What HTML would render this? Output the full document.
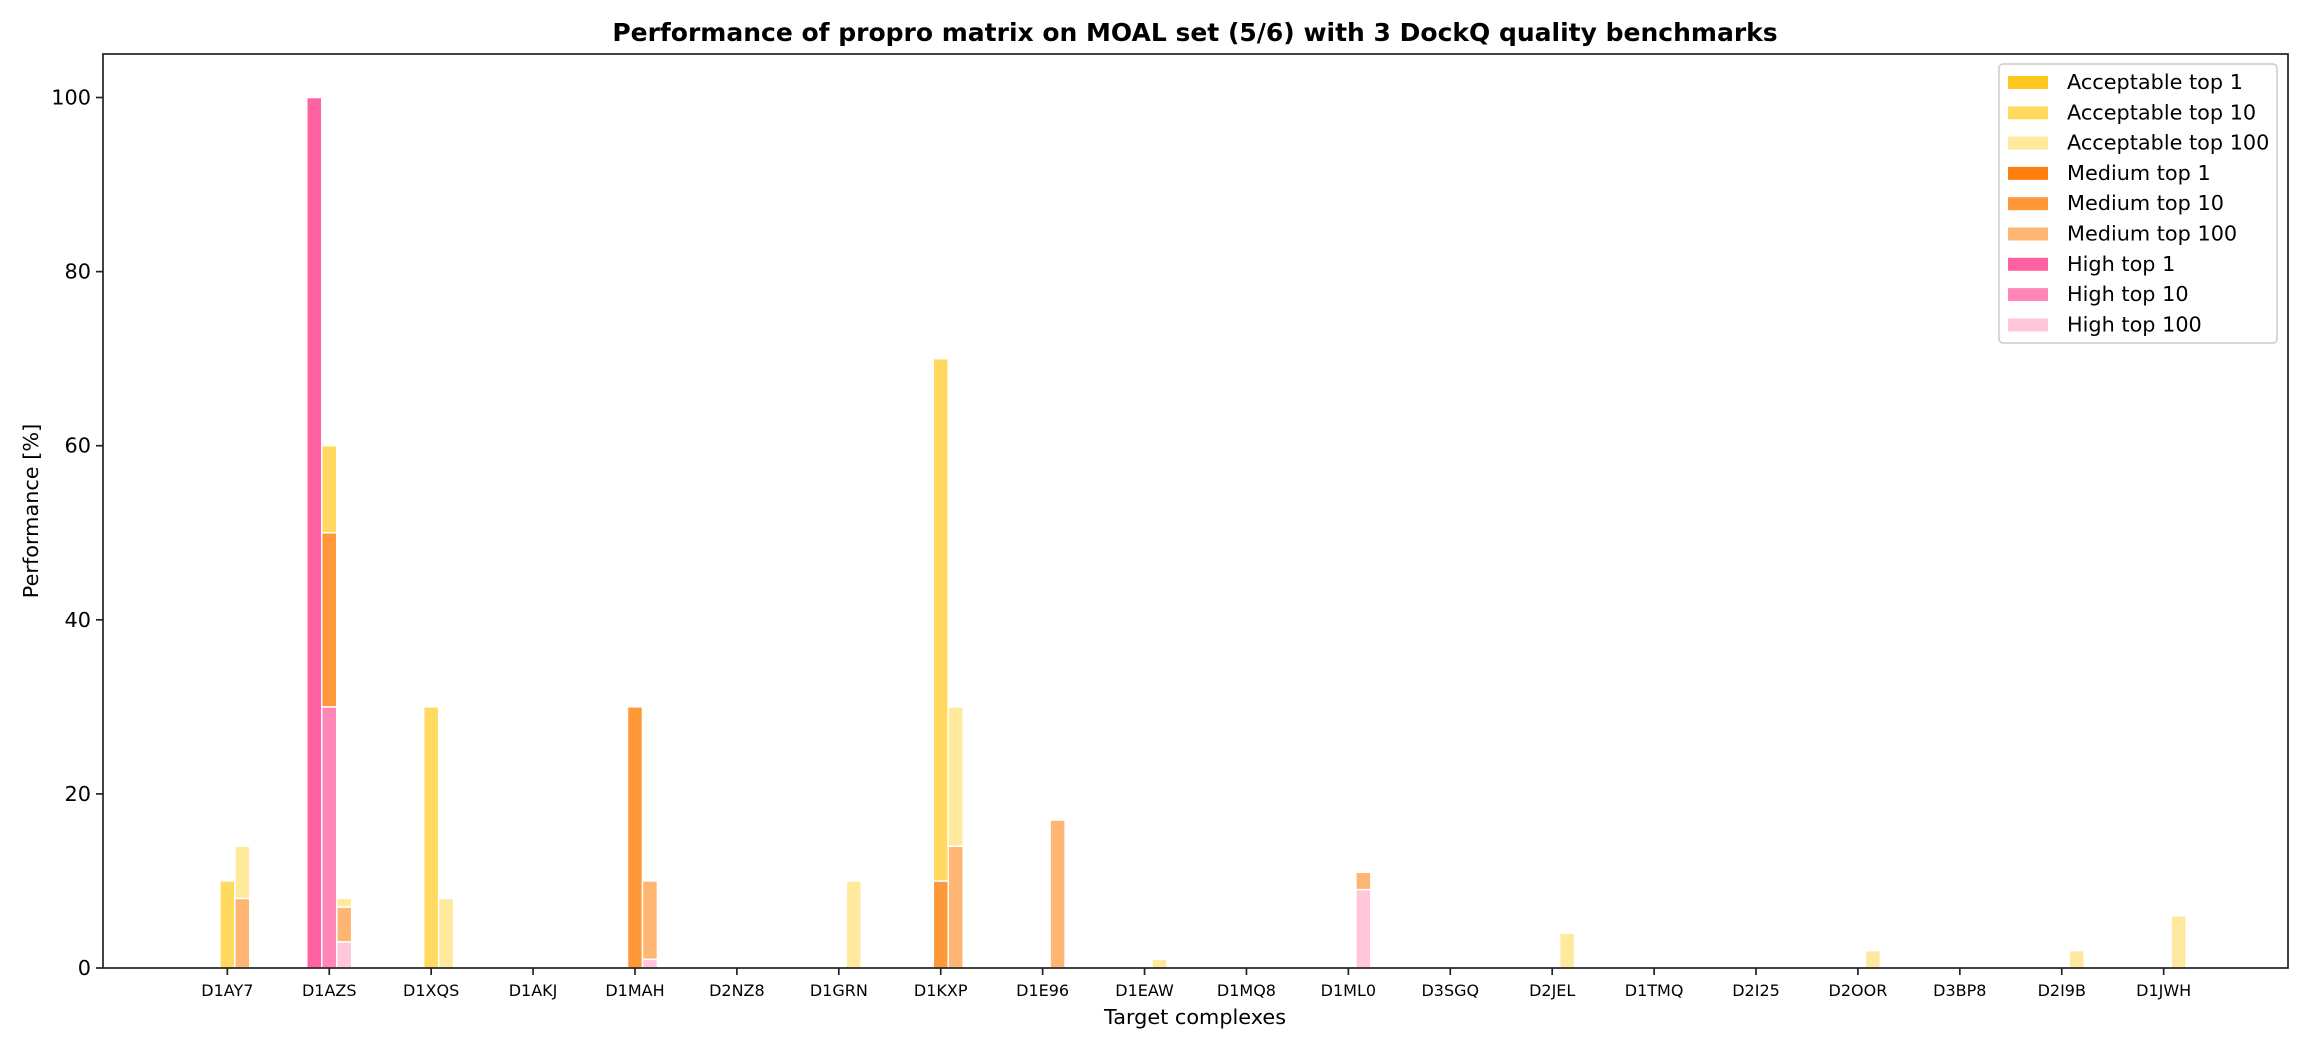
<!DOCTYPE html>
<html><head><meta charset="utf-8"><style>
html,body{margin:0;padding:0;background:#fff;}
svg{display:block;font-family:"DejaVu Sans","Liberation Sans",sans-serif;}
</style></head><body>
<svg id="chart" width="2310" height="1050" viewBox="0 0 2310 1050" xmlns="http://www.w3.org/2000/svg">
<rect width="2310" height="1050" fill="#fff"/>
<text x="1195" y="41" text-anchor="middle" font-size="25" font-weight="bold">Performance of propro matrix on MOAL set (5/6) with 3 DockQ quality benchmarks</text>
<g id="bars"></g>
<g id="axes"></g>
<text x="1195" y="1024" text-anchor="middle" font-size="20.8">Target complexes</text>
<text transform="translate(38,511) rotate(-90)" text-anchor="middle" font-size="20.8">Performance [%]</text>
<g id="legend"></g>
</svg>
<script>
const categories = ["D1AY7","D1AZS","D1XQS","D1AKJ","D1MAH","D2NZ8","D1GRN","D1KXP","D1E96","D1EAW","D1MQ8","D1ML0","D3SGQ","D2JEL","D1TMQ","D2I25","D2OOR","D3BP8","D2I9B","D1JWH"];
const highTop1 = [0,100,0,0,0,0,0,0,0,0,0,0,0,0,0,0,0,0,0,0];
const highTop10 = [0,30,0,0,0,0,0,0,0,0,0,0,0,0,0,0,0,0,0,0];
const highTop100 = [0,3,0,0,1,0,0,0,0,0,0,9,0,0,0,0,0,0,0,0];
const mediumTop1 = [0,0,0,0,0,0,0,0,0,0,0,0,0,0,0,0,0,0,0,0];
const mediumTop10 = [0,20,0,0,30,0,0,10,0,0,0,0,0,0,0,0,0,0,0,0];
const mediumTop100 = [8,4,0,0,9,0,0,14,17,0,0,2,0,0,0,0,0,0,0,0];
const acceptableTop1 = [0,0,0,0,0,0,0,0,0,0,0,0,0,0,0,0,0,0,0,0];
const acceptableTop10 = [10,10,30,0,0,0,0,60,0,0,0,0,0,0,0,0,0,0,0,0];
const acceptableTop100 = [6,1,8,0,0,0,10,16,0,1,0,0,0,4,0,0,2,0,2,6];
const yTicks = [0,20,40,60,80,100];
const legendLabels = ["Acceptable top 1","Acceptable top 10","Acceptable top 100","Medium top 1","Medium top 10","Medium top 100","High top 1","High top 10","High top 100"];

const colors = {
  acc:["#FFC81F","#FFDA5E","#FFE99C"],
  med:["#FF7F0E","#FF9838","#FFB673"],
  high:["#FF62A2","#FF86B6","#FFC6DC"]
};
const PL=103, PR=2288, PT=54, PB=968, YMAX=105;
const XMIN=-1.22, XMAX=categories.length-1+1.22;
const xs = v => PL + (v - XMIN)/(XMAX - XMIN)*(PR-PL);
const ys = v => PB - v/YMAX*(PB-PT);
const NS="http://www.w3.org/2000/svg";
function mk(tag, attrs, parent){const e=document.createElementNS(NS,tag);for(const k in attrs)e.setAttribute(k,attrs[k]);parent.appendChild(e);return e;}
const bars=document.getElementById('bars');
const W=0.147;
const groups=[
  {off:-W, k:0, h:highTop1, m:mediumTop1, a:acceptableTop1, name:'top1'},
  {off:0, k:1, h:highTop10, m:mediumTop10, a:acceptableTop10, name:'top10'},
  {off:W, k:2, h:highTop100, m:mediumTop100, a:acceptableTop100, name:'top100'}
];
categories.forEach((c,i)=>{
  groups.forEach(g=>{
    let base=0;
    [['high',g.h[i],colors.high[g.k]],['medium',g.m[i],colors.med[g.k]],['acceptable',g.a[i],colors.acc[g.k]]].forEach(([q,v,col])=>{
      if(v<=0) return;
      const x0=xs(i+g.off-W/2), x1=xs(i+g.off+W/2);
      const r=mk('rect',{x:x0,y:ys(base+v),width:x1-x0,height:ys(base)-ys(base+v),fill:col,stroke:'#fff','stroke-width':1.5},bars);
      
      
      base+=v;
    });
  });
});
const ax=document.getElementById('axes');
const frame=mk('rect',{x:PL,y:PT,width:PR-PL,height:PB-PT,fill:'none',stroke:'#222','stroke-width':1.7},ax);


yTicks.forEach(t=>{
  const y=ys(t);
  mk('line',{x1:PL-7,x2:PL,y1:y,y2:y,stroke:'#222','stroke-width':1.7},ax);
  const tx=mk('text',{x:PL-12,y:y+7,'text-anchor':'end','font-size':20.8},ax);
  tx.textContent=t;
  
  
});
categories.forEach((c,i)=>{
  const x=xs(i);
  mk('line',{x1:x,x2:x,y1:PB,y2:PB+7,stroke:'#222','stroke-width':1.7},ax);
  const tx=mk('text',{x:x,y:PB+28,'text-anchor':'middle','font-size':16},ax);
  tx.textContent=c;
  
  
});
const lg=document.getElementById('legend');
mk('rect',{x:1999,y:64,width:278,height:279,rx:4,fill:'#fff','fill-opacity':0.8,stroke:'#ccc','stroke-width':1.5},lg);
const legCols=[...colors.acc,...colors.med,...colors.high];
legendLabels.forEach((l,j)=>{
  const y=82+j*30.3;
  const p=mk('rect',{x:2008,y:y-6,width:40,height:13,fill:legCols[j]},lg);
  
  
  const t=mk('text',{x:2067,y:y+7,'font-size':20.8},lg);
  t.textContent=l;
  
  
});
</script>
</body></html>
